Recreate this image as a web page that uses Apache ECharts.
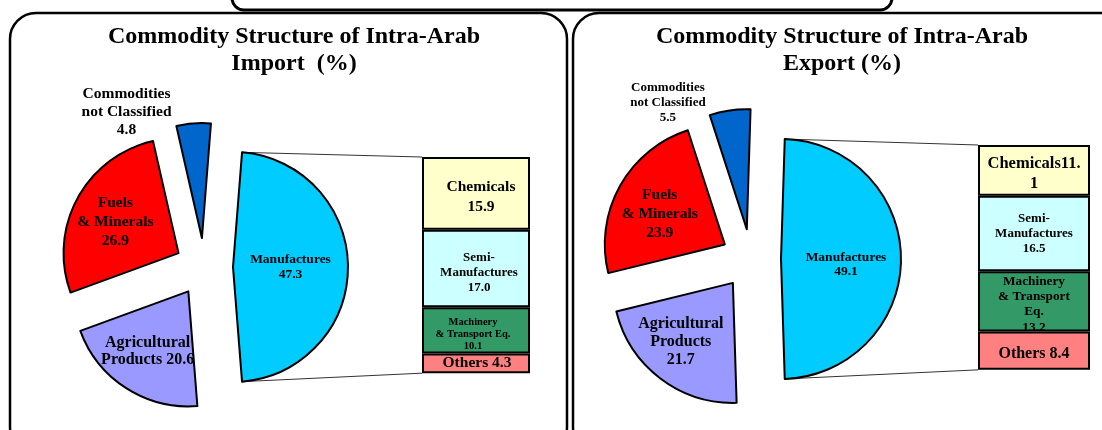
<!DOCTYPE html>
<html>
<head>
<meta charset="utf-8">
<script src="https://cdn.jsdelivr.net/npm/echarts@6/dist/echarts.min.js"></script>
<style>
  html, body { margin: 0; padding: 0; background: #fff; }
  #main { width: 1102px; height: 430px; }
</style>
</head>
<body>
<div id="main"></div>
<script>
// pie: Manufactures first, then clockwise round the left side
const pieNames = ['Manufactures', 'Agricultural Products', 'Fuels & Minerals', 'Commodities not Classified']
const importPieValues = [47.3, 20.6, 26.9, 4.8]
const exportPieValues = [49.1, 21.7, 23.9, 5.5]
const importPieLabels = ['Manufactures\n{v}', 'Agricultural\nProducts {v}', 'Fuels\n& Minerals\n{v}', 'Commodities\nnot Classified\n{v}']
const exportPieLabels = ['Manufactures\n{v}', 'Agricultural\nProducts\n{v}', 'Fuels\n& Minerals\n{v}', 'Commodities\nnot Classified\n{v}']

// bar: breakdown of Manufactures, top to bottom
const barNames = ['Chemicals', 'Semi-Manufactures', 'Machinery & Transport Eq.', 'Others']
const importBarValues = [15.9, 17.0, 10.1, 4.3]
const exportBarValues = [11.1, 16.5, 13.2, 8.4]
const importBarLabels = ['Chemicals\n{v}', 'Semi-\nManufactures\n{v}', 'Machinery\n& Transport Eq.\n{v}', 'Others {v}']
const exportBarLabels = ['Chemicals{v}', 'Semi-\nManufactures\n{v}', 'Machinery\n& Transport\nEq.\n{v}', 'Others {v}']

const pieColors = ['#00CCFF', '#9999FF', '#FF0000', '#0066CC']
const barColors = ['#FFFFCC', '#CCFFFF', '#339966', '#FF8080']
const FONT = '"Liberation Serif", "Times New Roman", serif'
const PX_PER_UNIT = 4.57

const panels = [
  {
    title: 'Commodity Structure of Intra-Arab\nImport  (%)', titleX: 294,
    values: importPieValues, labels: importPieLabels,
    center: [204, 267], radius: 115, offset: 29,
    labelStyle: [
      { fontSize: 13.5, lineHeight: 15, dx: -3, dy: 0 },
      { fontSize: 16, lineHeight: 17, dx: -8, dy: 9 },
      { fontSize: 15.5, lineHeight: 19, dx: -10, dy: -2 },
      { fontSize: 15.5, lineHeight: 18, dx: -71, dy: -66 }
    ],
    barValues: importBarValues, barLabels: importBarLabels,
    bar: { left: 422, top: 157, width: 108 },
    barStyle: [
      { fontSize: 15.5, lineHeight: 20, dx: 5, dy: 4 },
      { fontSize: 13, lineHeight: 15, dx: 3, dy: 4 },
      { fontSize: 10.5, lineHeight: 12, dx: -3, dy: 4 },
      { fontSize: 15.5, lineHeight: 17, dx: 1, dy: 0 }
    ]
  },
  {
    title: 'Commodity Structure of Intra-Arab\nExport (%)', titleX: 842,
    values: exportPieValues, labels: exportPieLabels,
    center: [751, 259], radius: 120, offset: 30,
    labelStyle: [
      { fontSize: 13.5, lineHeight: 14, dx: 2, dy: 6 },
      { fontSize: 16, lineHeight: 18, dx: -14, dy: 9 },
      { fontSize: 15.5, lineHeight: 19, dx: -10, dy: 0 },
      { fontSize: 13, lineHeight: 15, dx: -70, dy: -64 }
    ],
    barValues: exportBarValues, barLabels: exportBarLabels,
    bar: { left: 978, top: 145, width: 112 },
    barStyle: [
      { fontSize: 16.5, lineHeight: 20, width: 94, overflow: 'breakAll', dx: 0, dy: 3 },
      { fontSize: 13, lineHeight: 15, dx: 0, dy: 0 },
      { fontSize: 13.3, lineHeight: 15.3, dx: 0, dy: 3 },
      { fontSize: 16, lineHeight: 17, dx: 0, dy: 3 }
    ]
  }
]

const fmt = (tpl, v) => tpl.replace('{v}', v.toFixed(1))
const sum = arr => arr.reduce((a, b) => a + b, 0)

const series = []
const grids = []
const xAxes = []
const yAxes = []
const graphics = [
  { type: 'rect', shape: { x: 232, y: -40, width: 660, height: 50, r: 12 }, style: { fill: 'none', stroke: '#000', lineWidth: 3 }, z: 0 },
  { type: 'rect', shape: { x: 10, y: 13, width: 557, height: 440, r: 26 }, style: { fill: 'none', stroke: '#000', lineWidth: 2.5 }, z: 0 },
  { type: 'rect', shape: { x: 573, y: 13, width: 560, height: 440, r: 26 }, style: { fill: 'none', stroke: '#000', lineWidth: 2.5 }, z: 0 }
]

panels.forEach((p, i) => {
  const total = sum(p.values)
  const half = p.values[0] / total * 180
  series.push({
    type: 'pie',
    center: p.center,
    radius: p.radius,
    startAngle: half,
    clockwise: true,
    selectedMode: 'multiple',
    selectedOffset: p.offset,
    avoidLabelOverlap: false,
    silent: true,
    labelLine: { show: false },
    itemStyle: { borderColor: '#000', borderWidth: 2 },
    labelLayout: params => ({ dx: p.labelStyle[params.dataIndex].dx, dy: p.labelStyle[params.dataIndex].dy }),
    data: p.values.map((v, k) => ({
      name: pieNames[k],
      value: v,
      selected: true,
      itemStyle: { color: pieColors[k] },
      select: { itemStyle: { color: pieColors[k], borderColor: '#000', borderWidth: 2 } },
      label: {
        show: true,
        position: 'inside',
        formatter: fmt(p.labels[k], v),
        color: '#000',
        textBorderWidth: 0,
        fontFamily: FONT,
        fontWeight: 'bold',
        fontSize: p.labelStyle[k].fontSize,
        lineHeight: p.labelStyle[k].lineHeight
      }
    }))
  })

  // stacked bar
  const barTotal = sum(p.barValues)
  const h = barTotal * PX_PER_UNIT
  grids.push({ left: p.bar.left, top: p.bar.top, width: p.bar.width, height: h })
  xAxes.push({ type: 'category', gridIndex: i, data: [''], show: false })
  yAxes.push({ type: 'value', gridIndex: i, min: 0, max: barTotal, inverse: true, show: false })
  p.barValues.forEach((v, k) => {
    const st = p.barStyle[k]
    const label = {
      show: true,
      position: 'inside',
      formatter: fmt(p.barLabels[k], v),
      color: '#000',
      textBorderWidth: 0,
      fontFamily: FONT,
      fontWeight: 'bold',
      fontSize: st.fontSize,
      lineHeight: st.lineHeight
    }
    if (st.width) {
      label.width = st.width
      label.overflow = st.overflow
    }
    series.push({
      type: 'bar',
      name: barNames[k],
      xAxisIndex: i,
      yAxisIndex: i,
      stack: 'manuf' + i,
      barWidth: '100%',
      silent: true,
      itemStyle: { color: barColors[k], borderColor: '#000', borderWidth: 2 },
      label: label,
      labelLayout: { dx: st.dx, dy: st.dy },
      data: [v]
    })
  })

  // connector lines from Manufactures edge to the bar
  const rad = half * Math.PI / 180
  const ax = p.center[0] + p.offset
  const ay = p.center[1]
  const topPt = [ax + p.radius * Math.cos(rad), ay - p.radius * Math.sin(rad)]
  const botPt = [ax + p.radius * Math.cos(rad), ay + p.radius * Math.sin(rad)]
  graphics.push(
    { type: 'line', shape: { x1: topPt[0], y1: topPt[1], x2: p.bar.left, y2: p.bar.top }, style: { stroke: '#333', lineWidth: 1 }, z: 1 },
    { type: 'line', shape: { x1: botPt[0], y1: botPt[1], x2: p.bar.left, y2: p.bar.top + h }, style: { stroke: '#333', lineWidth: 1 }, z: 1 },
    { type: 'text', x: p.titleX, y: 23, style: { text: p.title, textAlign: 'center', font: 'bold 24px ' + FONT, lineHeight: 27, fill: '#000' }, z: 2 }
  )
})

const chart = echarts.init(document.getElementById('main'))
chart.setOption({
  animation: false,
  grid: grids,
  xAxis: xAxes,
  yAxis: yAxes,
  series: series,
  graphic: graphics
})
</script>
</body>
</html>
